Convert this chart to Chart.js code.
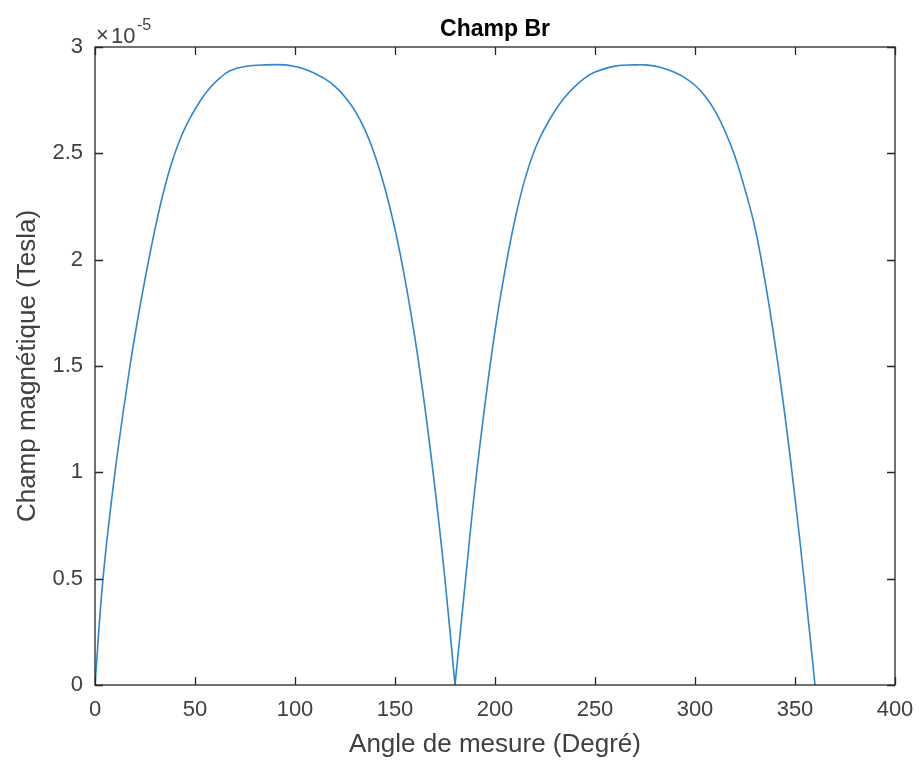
<!DOCTYPE html>
<html>
<head>
<meta charset="utf-8">
<script src="https://cdn.jsdelivr.net/npm/chart.js@4/dist/chart.umd.min.js"></script>
<style>
  html, body { margin: 0; padding: 0; background: #fff; }
  #wrap { width: 919px; height: 761px; }
</style>
</head>
<body>
<div id="wrap"><canvas id="br-chart" width="919" height="761"></canvas></div>
<script>
// Champ Br, in units of 1e-5 Tesla

var angles1 = [0, 4, 10, 17.5, 22.5, 27.5, 32.5, 37.5, 42.5, 47.5, 52.5, 57.5, 62.5, 67.5, 75, 85,
    95, 100, 105, 110, 115, 120, 125, 130, 135, 140, 145, 150, 155, 160, 165, 170, 175, 180];
var values1 = [0, 0.5, 1.0, 1.5, 1.78, 2.03, 2.25, 2.43, 2.565, 2.665, 2.745, 2.808, 2.855, 2.888, 2.908, 2.916,
    2.916, 2.908, 2.895, 2.875, 2.85, 2.815, 2.765, 2.70, 2.61, 2.49, 2.335, 2.143, 1.909, 1.63, 1.302, 0.923, 0.495, 0];

var angles2 = [180, 185, 190, 195, 200, 205, 210, 215, 220, 225, 230, 235, 240, 245, 250, 260, 270,
    275, 280, 285, 290, 295, 300, 305, 310, 315, 320, 325, 330, 335, 340, 345, 350, 355, 360];
var values2 = [0, 0.47, 0.93, 1.32, 1.665, 1.95, 2.19, 2.38, 2.52, 2.62, 2.7, 2.765, 2.815, 2.855, 2.882, 2.91, 2.916,
    2.916, 2.91, 2.898, 2.88, 2.855, 2.82, 2.77, 2.70, 2.605, 2.485, 2.33, 2.15, 1.9, 1.605, 1.265, 0.88, 0.455, 0];

var xTicks = [0, 50, 100, 150, 200, 250, 300, 350, 400];
var yTicks = [0, 0.5, 1, 1.5, 2, 2.5, 3];
var yExponent = '-5';
var chartTitle = 'Champ Br';

var lineColor = '#2e86d0';
var axisColor = '#262626';
var labelColor = '#404040';
var fontName = '"Liberation Sans", Arial, sans-serif';

function toPoints(xs, ys) {
    var pts = [];
    for (let i = 0; i < xs.length; i++) {
        pts.push({ x: xs[i], y: ys[i] });
    }
    return pts;
}

// MATLAB style box, inward ticks, title over the axes and the x10^-5 multiplier
var matlabBox = {
    id: 'matlabBox',
    afterDraw: function (chart) {
        var ctx = chart.ctx;
        var a = chart.chartArea;
        var xs = chart.scales.x;
        var ys = chart.scales.y;
        var len = 8;
        ctx.save();
        ctx.strokeStyle = axisColor;
        ctx.lineWidth = 1.3;
        ctx.strokeRect(a.left, a.top, a.right - a.left, a.bottom - a.top);
        ctx.beginPath();
        for (let i = 0; i < xTicks.length; i++) {
            var px = Math.round(xs.getPixelForValue(xTicks[i])) + 0.5;
            ctx.moveTo(px, a.bottom); ctx.lineTo(px, a.bottom - len);
            ctx.moveTo(px, a.top); ctx.lineTo(px, a.top + len);
        }
        for (let i = 0; i < yTicks.length; i++) {
            var py = Math.round(ys.getPixelForValue(yTicks[i])) + 0.5;
            ctx.moveTo(a.left, py); ctx.lineTo(a.left + len, py);
            ctx.moveTo(a.right, py); ctx.lineTo(a.right - len, py);
        }
        ctx.stroke();

        ctx.fillStyle = '#000';
        ctx.textAlign = 'center';
        ctx.textBaseline = 'middle';
        ctx.font = 'bold 23px ' + fontName;
        ctx.fillText(chartTitle, (a.left + a.right) / 2, 30);

        ctx.fillStyle = labelColor;
        ctx.textBaseline = 'alphabetic';
        ctx.textAlign = 'left';
        ctx.font = '22px ' + fontName;
        ctx.fillText('\u00d7', a.left + 1, a.top - 5);
        ctx.fillText('10', a.left + 16, a.top - 4);
        ctx.font = '16px ' + fontName;
        ctx.fillText(yExponent, a.left + 42, a.top - 17);
        ctx.restore();
    }
};

function setUpChart() {
    var ctx = document.getElementById('br-chart').getContext('2d');

    var data = {
        datasets: [
            {
                data: toPoints(angles1, values1),
                borderColor: lineColor,
                borderWidth: 1.6,
                pointRadius: 0,
                tension: 0.4,
            },
            {
                data: toPoints(angles2, values2),
                borderColor: lineColor,
                borderWidth: 1.6,
                pointRadius: 0,
                tension: 0.4,
            },
        ],
    };

    var config = {
        type: 'line',
        data: data,
        options: {
            responsive: false,
            animation: false,
            layout: { padding: { top: 47, right: 24, bottom: 0, left: 0 } },
            plugins: {
                legend: { display: false },
                tooltip: { enabled: false },
                title: { display: false },
            },
            scales: {
                x: {
                    type: 'linear',
                    min: 0,
                    max: 400,
                    afterBuildTicks: function (scale) {
                        scale.ticks = xTicks.map(function (v) { return { value: v }; });
                    },
                    afterFit: function (scale) {
                        scale.height = 76;
                        scale.paddingLeft = 0;
                        scale.paddingRight = 0;
                    },
                    grid: { display: false, drawTicks: false },
                    border: { display: false },
                    ticks: {
                        color: labelColor,
                        padding: 12,
                        maxRotation: 0,
                        font: { family: fontName, size: 22 },
                    },
                    title: {
                        display: true,
                        text: 'Angle de mesure (Degré)',
                        color: labelColor,
                        font: { family: fontName, size: 26 },
                        padding: { top: 1, bottom: 1 },
                    },
                },
                y: {
                    min: 0,
                    max: 3,
                    afterBuildTicks: function (scale) {
                        scale.ticks = yTicks.map(function (v) { return { value: v }; });
                    },
                    afterFit: function (scale) {
                        scale.width = 95;
                        scale.paddingTop = 0;
                        scale.paddingBottom = 0;
                    },
                    grid: { display: false, drawTicks: false },
                    border: { display: false },
                    ticks: {
                        color: labelColor,
                        padding: 12,
                        font: { family: fontName, size: 22 },
                        callback: function (v) { return String(v); },
                    },
                    title: {
                        display: true,
                        text: 'Champ magnétique (Tesla)',
                        color: labelColor,
                        font: { family: fontName, size: 26 },
                        padding: { top: 12, bottom: 12 },
                    },
                },
            },
        },
        plugins: [matlabBox],
    };

    new Chart(ctx, config);
}

setUpChart();
</script>
</body>
</html>
